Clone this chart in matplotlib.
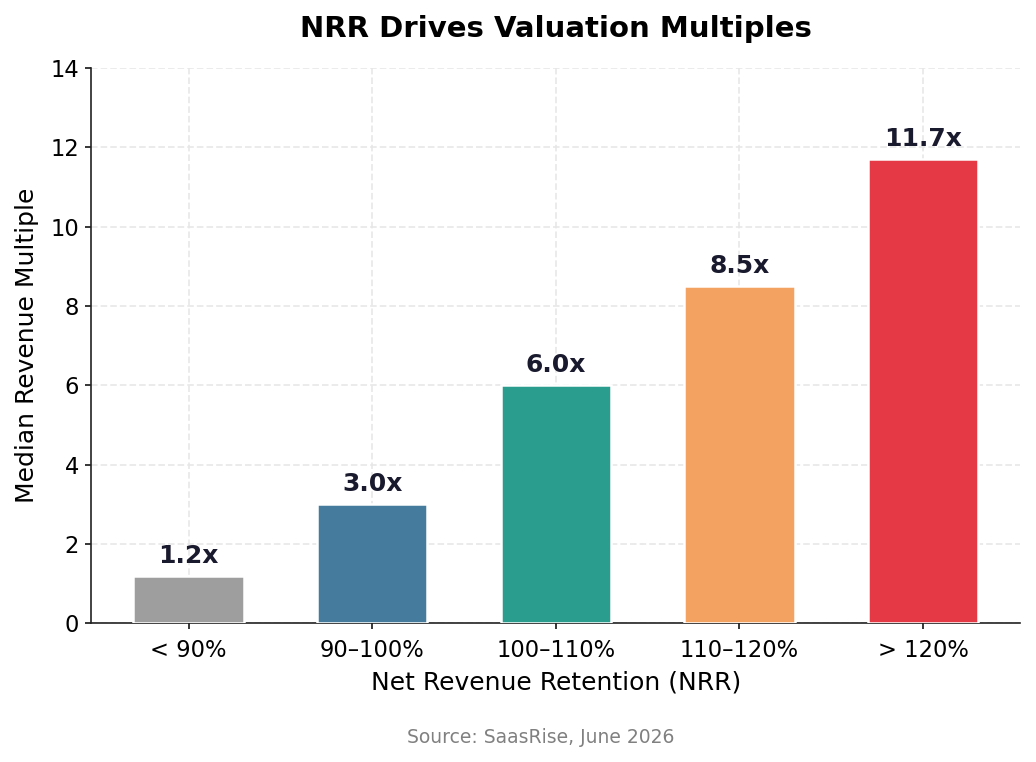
import matplotlib
matplotlib.use("Agg")
import matplotlib.pyplot as plt

plt.rcParams["font.family"] = ["DejaVu Sans"]

categories = ["< 90%", "90–100%", "100–110%", "110–120%", "> 120%"]
multiples = [1.2, 3.0, 6.0, 8.5, 11.7]
colors = ["#9e9e9e", "#457b9d", "#2a9d8f", "#f4a261", "#e63946"]

fig, ax = plt.subplots(figsize=(10.36, 7.62), dpi=100)
fig.subplots_adjust(left=0.088, right=0.985, top=0.911, bottom=0.182)

bars = ax.bar(categories, multiples, width=0.6, color=colors, edgecolor="white", linewidth=1.8, zorder=3)
for b, v in zip(bars, multiples):
    ax.text(b.get_x() + b.get_width() / 2, v + 0.2, f"{v:.1f}x", ha="center", va="bottom",
            fontsize=18, fontweight="bold", color="#1a1a2e", zorder=4)

ax.set_ylim(0, 14)
ax.set_yticks(range(0, 15, 2))
ax.grid(True, linestyle=(0, (4.3, 2.0)), color="#e6e6e6", linewidth=1.1, zorder=0)
ax.set_axisbelow(True)
ax.spines["top"].set_visible(False)
ax.spines["right"].set_visible(False)
for s in ("left", "bottom"):
    ax.spines[s].set_color("#222222")
    ax.spines[s].set_linewidth(1.2)
ax.tick_params(axis="both", labelsize=16.3, length=4.1, width=1.1, pad=4.5)
ax.tick_params(axis="x", pad=7)
ax.set_xlabel("Net Revenue Retention (NRR)", fontsize=18, labelpad=6)
ax.set_ylabel("Median Revenue Multiple", fontsize=18, labelpad=8)
ax.set_title("NRR Drives Valuation Multiples", fontsize=21, fontweight="bold", pad=22)
fig.text(0.522, 0.025, "Source: SaasRise, June 2026", ha="center", fontsize=13.5, color="gray")

fig.savefig("out.png", dpi=100)
